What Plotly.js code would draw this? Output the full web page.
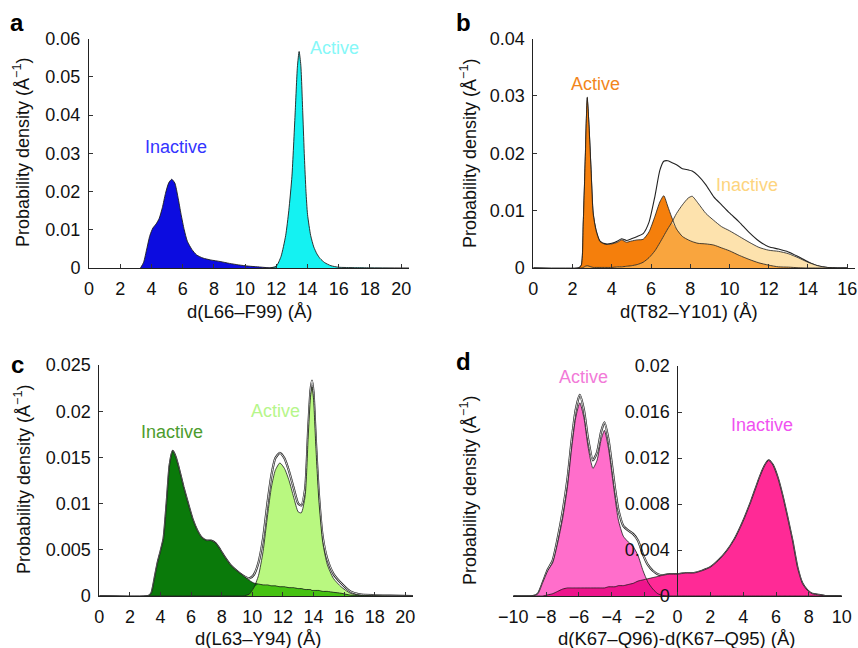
<!DOCTYPE html>
<html>
<head>
<meta charset="utf-8">
<script src="https://cdn.plot.ly/plotly-3.0.1.min.js"></script>
<style>html,body{margin:0;padding:0;background:#fff;}#chart{width:858px;height:648px;}</style>
</head>
<body>
<div id="chart"></div>
<script>
// ---------- Panel a: d(L66–F99) ----------
const aInactiveX = [3.3,3.5,3.7,3.9,4.1,4.3,4.5,4.7,4.9,5.1,5.3,5.5,5.7,5.9,6.1,6.3,6.6,6.9,7.3,7.8,8.4,9.0,9.6,10.2,10.8,11.4,12];
const aInactiveY = [0,0.0015,0.005,0.0085,0.0105,0.0115,0.013,0.0158,0.0195,0.0222,0.0232,0.0222,0.0185,0.014,0.01,0.007,0.0048,0.0034,0.0026,0.0021,0.0017,0.0012,0.0008,0.0005,0.0003,0.0001,0];
const aActiveX = [11.6,12.0,12.3,12.6,12.8,13.0,13.2,13.35,13.46,13.57,13.7,13.8,13.9,14.0,14.2,14.4,14.6,14.8,15.1,15.5,16,17,18,20.5];
const aActiveY = [0,0.0005,0.003,0.0085,0.015,0.024,0.04,0.0525,0.0566,0.053,0.04,0.029,0.02,0.014,0.0085,0.0055,0.0037,0.0025,0.0014,0.0006,0.0002,0.0001,0.00005,0];

// ---------- Panel b: d(T82–Y101) ----------
const bX = [0,2.3,2.45,2.55,2.65,2.75,2.85,2.95,3.05,3.2,3.4,3.7,4.0,4.3,4.5,4.75,5.0,5.3,5.6,5.9,6.2,6.45,6.65,6.85,7.05,7.3,7.6,7.9,8.1,8.4,8.8,9.2,9.6,10.0,10.5,11.0,11.5,12.0,12.5,13.0,13.5,14.0,14.5,15.0,15.5,16];
const bActive = [0,0,0.0005,0.008,0.019,0.0297,0.024,0.0165,0.0095,0.0065,0.0046,0.0041,0.0042,0.0045,0.0049,0.0045,0.0047,0.0049,0.005,0.0063,0.009,0.0115,0.0126,0.0108,0.0089,0.0068,0.0055,0.0049,0.0046,0.0043,0.0042,0.004,0.0035,0.003,0.0022,0.0015,0.0009,0.0005,0.0002,0.00015,0.00005,0,0,0,0,0];
const bInactive = [0,0,0,0.0001,0.0003,0.0004,0.0003,0.0002,0.0001,0.0001,0.0001,0.0001,0.0001,0.0002,0.0002,0.0003,0.0004,0.0006,0.001,0.0018,0.003,0.0044,0.0056,0.0068,0.0079,0.0095,0.011,0.0122,0.0125,0.0113,0.0095,0.0083,0.0072,0.0065,0.0055,0.0045,0.0036,0.0031,0.0029,0.0025,0.0018,0.001,0.0004,0.0001,0,0];
const bTotal = [0,0,0.0005,0.008,0.019,0.0298,0.024,0.0166,0.0096,0.0066,0.0047,0.0042,0.0043,0.0047,0.0051,0.0048,0.0051,0.0055,0.006,0.008,0.0125,0.017,0.0186,0.0187,0.0184,0.018,0.0173,0.0171,0.0169,0.0161,0.0145,0.0124,0.011,0.0096,0.008,0.0062,0.0047,0.0037,0.0033,0.0028,0.002,0.0011,0.0004,0.0001,0,0];

// ---------- Panel c: d(L63–Y94) ----------
const cX = [0,3.2,3.4,3.6,3.8,4.0,4.2,4.4,4.6,4.8,5.0,5.2,5.5,5.8,6.1,6.4,6.7,7.0,7.3,7.6,7.9,8.2,8.6,9.0,9.4,9.8,10.1,10.4,10.7,11.0,11.25,11.5,11.8,12.1,12.4,12.7,13.0,13.2,13.45,13.65,13.8,13.9,14.0,14.15,14.35,14.6,14.9,15.3,15.8,16.4,17,18,19,20.5];
const cInactive = [0,0,0.0003,0.0018,0.0035,0.0048,0.0062,0.01,0.0142,0.0157,0.015,0.0138,0.0118,0.01,0.0083,0.0071,0.0063,0.006,0.006,0.0057,0.005,0.0042,0.0033,0.0027,0.0022,0.0017,0.0014,0.0013,0.0012,0.0012,0.0011,0.0011,0.001,0.001,0.0009,0.0009,0.0008,0.0008,0.0007,0.0007,0.0007,0.0006,0.0006,0.0006,0.0006,0.0005,0.0005,0.0004,0.0003,0.0001,0.00005,0,0,0];
const cActive = [0,0,0,0,0,0,0,0,0,0,0,0,0,0,0,0,0,0,0,0,0,0,0,0,0,0.0002,0.0009,0.0022,0.0048,0.0088,0.0118,0.0136,0.0144,0.0138,0.0125,0.0107,0.0091,0.009,0.0108,0.0172,0.0215,0.0226,0.0213,0.0162,0.0103,0.0058,0.0034,0.0019,0.001,0.0003,0.0001,0.00005,0,0];
const cTotal = [0,0,0.0003,0.0018,0.0035,0.0048,0.0062,0.01,0.0142,0.0157,0.015,0.0138,0.0118,0.01,0.0083,0.0071,0.0063,0.006,0.006,0.0057,0.005,0.0042,0.0033,0.0027,0.0022,0.0019,0.0023,0.0036,0.0062,0.0102,0.0131,0.0149,0.0155,0.0149,0.0135,0.0117,0.01,0.0098,0.0116,0.018,0.0222,0.0233,0.022,0.0169,0.011,0.0064,0.004,0.0024,0.0014,0.0005,0.00018,0.00008,0.00003,0];

// ---------- Panel d: d(K67–Q96)-d(K67–Q95) ----------
const dX = [-10,-8.8,-8.5,-8.2,-7.9,-7.6,-7.3,-7.0,-6.7,-6.45,-6.2,-5.95,-5.7,-5.45,-5.15,-4.9,-4.65,-4.45,-4.2,-4.0,-3.8,-3.6,-3.3,-3.0,-2.7,-2.4,-2.1,-1.8,-1.5,-1.2,-0.9,-0.5,0,0.5,1.0,1.5,2.0,2.5,3.0,3.5,4.0,4.5,5.0,5.3,5.55,5.8,6.1,6.4,6.7,7.0,7.3,7.6,7.9,8.2,8.6,9.0,10];
const dActive = [0,0,0.0002,0.0012,0.0022,0.0029,0.0046,0.0067,0.0095,0.0128,0.0155,0.0168,0.0155,0.013,0.0111,0.0118,0.0136,0.0144,0.0128,0.0107,0.0085,0.0066,0.0052,0.0047,0.0043,0.0035,0.0022,0.0012,0.0006,0.0002,0.00005,0,0,0,0,0,0,0,0,0,0,0,0,0,0,0,0,0,0,0,0,0,0,0,0,0,0];
const dInactive = [0,0,0,0,0.0001,0.0002,0.0004,0.0006,0.0007,0.0007,0.0007,0.0007,0.0007,0.0007,0.0007,0.0007,0.0007,0.0007,0.0008,0.0008,0.0008,0.0009,0.0009,0.001,0.0011,0.0013,0.0014,0.0015,0.0016,0.0017,0.0018,0.0019,0.0019,0.002,0.002,0.0022,0.0025,0.0031,0.0039,0.005,0.0065,0.0083,0.0103,0.0113,0.0118,0.0114,0.0103,0.0087,0.0068,0.0048,0.0025,0.0011,0.0005,0.0002,0.0001,0,0];
const dTotal = [0,0,0.0002,0.0012,0.0023,0.0031,0.005,0.0073,0.0102,0.0135,0.0162,0.0175,0.0162,0.0137,0.0118,0.0125,0.0143,0.0151,0.0136,0.0115,0.0093,0.0075,0.0061,0.0057,0.0054,0.0048,0.0036,0.0027,0.0022,0.0019,0.0018,0.0019,0.0019,0.002,0.002,0.0022,0.0025,0.0031,0.0039,0.005,0.0065,0.0083,0.0103,0.0113,0.0118,0.0114,0.0103,0.0087,0.0068,0.0048,0.0025,0.0011,0.0005,0.0002,0.0001,0,0];

// ---------- Ticks ----------
const aXTicks = [0,2,4,6,8,10,12,14,16,18,20];
const aYTicks = [0,0.01,0.02,0.03,0.04,0.05,0.06];
const aYLabels = ["0","0.01","0.02","0.03","0.04","0.05","0.06"];
const bXTicks = [0,2,4,6,8,10,12,14,16];
const bYTicks = [0,0.01,0.02,0.03,0.04];
const bYLabels = ["0","0.01","0.02","0.03","0.04"];
const cXTicks = [0,2,4,6,8,10,12,14,16,18,20];
const cYTicks = [0,0.005,0.01,0.015,0.02,0.025];
const cYLabels = ["0","0.005","0.01","0.015","0.02","0.025"];
const dXTicks = [-10,-8,-6,-4,-2,0,2,4,6,8,10];
const dXLabels = ["\u221210","\u22128","\u22126","\u22124","\u22122","0","2","4","6","8","10"];
const dYTicks = [0,0.004,0.008,0.012,0.016,0.02];
const dYLabels = ["0","0.004","0.008","0.012","0.016","0.02"];

// ---------- helpers ----------
const W = 858, H = 648;
const FONT = "Liberation Sans, Arial, Helvetica, sans-serif";
const OUTLINE = "rgba(30,30,30,0.9)";

function fillTrace(x, y, color, xa, ya) {
  return {x: x, y: y, type: "scatter", mode: "none", fill: "tozeroy", fillcolor: color,
          line: {shape: "spline", smoothing: 0.6, width: 0}, xaxis: xa, yaxis: ya, hoverinfo: "skip"};
}
function lineTrace(x, y, color, width, xa, ya) {
  return {x: x, y: y, type: "scatter", mode: "lines",
          line: {shape: "spline", smoothing: 0.6, width: width, color: color}, xaxis: xa, yaxis: ya, hoverinfo: "skip"};
}
function minOf(a, b) { return a.map((v, i) => Math.min(v, b[i])); }

function panel(x, active, inactive, total, colA, colI, colO, xa, ya, doubleLine) {
  const t = [];
  if (doubleLine) {
    t.push(lineTrace(x, total, "#222", 2.2, xa, ya));
    t.push(lineTrace(x, total, "#ffffff", 0.8, xa, ya));
  } else {
    t.push(lineTrace(x, total, "#222", 1.1, xa, ya));
  }
  t.push(fillTrace(x, active, colA, xa, ya));
  t.push(fillTrace(x, inactive, colI, xa, ya));
  t.push(fillTrace(x, minOf(active, inactive), colO, xa, ya));
  t.push(lineTrace(x, active, OUTLINE, 0.9, xa, ya));
  t.push(lineTrace(x, inactive, OUTLINE, 0.9, xa, ya));
  return t;
}

let traces = [];
// a
traces.push(fillTrace(aInactiveX, aInactiveY, "#0c0ce0", "x", "y"));
traces.push(fillTrace(aActiveX, aActiveY, "#14f2f2", "x", "y"));
traces.push(lineTrace(aInactiveX, aInactiveY, OUTLINE, 1, "x", "y"));
traces.push(lineTrace(aActiveX, aActiveY, OUTLINE, 1, "x", "y"));
// b
traces = traces.concat(panel(bX, bActive, bInactive, bTotal, "#f57f0c", "#fde2ad", "#f9a53e", "x2", "y2", false));
// c
traces = traces.concat(panel(cX, cActive, cInactive, cTotal, "#b9f880", "#0a7a0a", "#46c212", "x3", "y3", true));
// d
traces = traces.concat(panel(dX, dActive, dInactive, dTotal, "#ff6ecb", "#ff2a96", "#ee148c", "x4", "y4", true));

function axis(extra) {
  return Object.assign({
    showline: true, linecolor: "#222", linewidth: 1, ticks: "inside", ticklen: 4, tickcolor: "#333",
    showgrid: false, zeroline: false, fixedrange: true,
    tickfont: {family: FONT, size: 18, color: "#111"}, ticklabelstandoff: 4, tickmode: "array"
  }, extra);
}

function ann(text, px, py, size, color, opts) {
  return Object.assign({text: text, x: px / W, y: 1 - py / H, xref: "paper", yref: "paper",
    showarrow: false, xanchor: "center", yanchor: "middle",
    font: {family: FONT, size: size, color: color}}, opts || {});
}

const ytitle = "Probability density (Å<sup>\u22121</sup>)";

const layout = {
  width: W, height: H, margin: {l: 0, r: 0, t: 0, b: 0},
  paper_bgcolor: "#ffffff", plot_bgcolor: "rgba(0,0,0,0)", showlegend: false,
  xaxis: axis({domain: [89 / W, 409 / W], range: [0, 20.5], anchor: "y", tickvals: aXTicks, ticktext: aXTicks.map(String)}),
  yaxis: axis({domain: [1 - 268 / H, 1 - 38.5 / H], range: [0, 0.06], anchor: "x", tickvals: aYTicks, ticktext: aYLabels}),
  xaxis2: axis({domain: [533.3 / W, 855 / W], range: [0, 16.4], anchor: "y2", tickvals: bXTicks, ticktext: bXTicks.map(String)}),
  yaxis2: axis({domain: [1 - 268 / H, 1 - 38.5 / H], range: [0, 0.04], anchor: "x2", tickvals: bYTicks, ticktext: bYLabels}),
  xaxis3: axis({domain: [99.3 / W, 413 / W], range: [0, 20.5], anchor: "y3", tickvals: cXTicks, ticktext: cXTicks.map(String)}),
  yaxis3: axis({domain: [1 - 596 / H, 1 - 365 / H], range: [0, 0.025], anchor: "x3", tickvals: cYTicks, ticktext: cYLabels}),
  xaxis4: axis({domain: [513.3 / W, 841.7 / W], range: [-10, 10], anchor: "y4", tickvals: dXTicks, ticktext: dXLabels}),
  yaxis4: axis({domain: [1 - 596 / H, 1 - 366 / H], range: [0, 0.02], anchor: "free", position: 677.3 / W, tickvals: dYTicks, ticktext: dYLabels}),
  annotations: [
    ann("<b>a</b>", 17, 22, 24, "#000"),
    ann("<b>b</b>", 463, 22, 24, "#000"),
    ann("<b>c</b>", 17, 364, 24, "#000"),
    ann("<b>d</b>", 463, 361, 24, "#000"),
    ann(ytitle, 21, 153, 18, "#111", {textangle: -90}),
    ann(ytitle, 468, 153, 18, "#111", {textangle: -90}),
    ann(ytitle, 22, 480, 18, "#111", {textangle: -90}),
    ann(ytitle, 468, 490, 18, "#111", {textangle: -90}),
    ann("d(L66\u2013F99) (Å)", 249, 311, 18.5, "#111"),
    ann("d(T82\u2013Y101) (Å)", 689, 311, 18.5, "#111"),
    ann("d(L63\u2013Y94) (Å)", 258, 638, 18.5, "#111"),
    ann("d(K67\u2013Q96)-d(K67\u2013Q95) (Å)", 677, 638, 18.5, "#111"),
    ann("Inactive", 176, 147, 18, "#3434ff"),
    ann("Active", 334, 48, 18, "#86f8f8"),
    ann("Active", 595, 84, 18, "#f2861c"),
    ann("Inactive", 747, 185, 18, "#fdd47e"),
    ann("Inactive", 172, 432, 18, "#4c9c2e"),
    ann("Active", 275, 411, 18, "#b6f68a"),
    ann("Active", 583, 377, 18, "#f27ad8"),
    ann("Inactive", 762, 425, 18, "#f052f0")
  ]
};

Plotly.newPlot("chart", traces, layout, {staticPlot: true, displayModeBar: false});
</script>
</body>
</html>
